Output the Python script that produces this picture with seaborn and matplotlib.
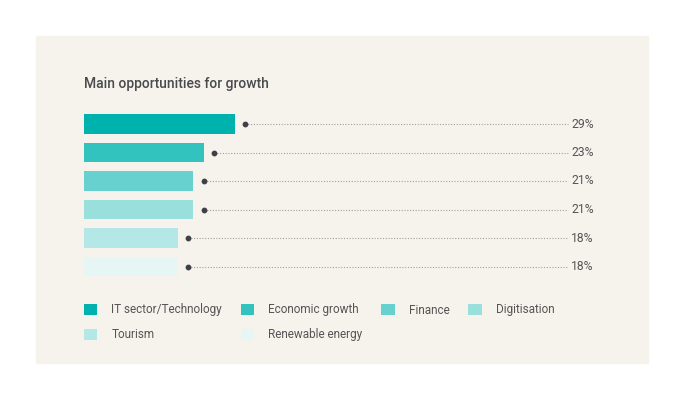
import numpy as np
import pandas as pd
import matplotlib.pyplot as plt
from matplotlib.patches import Rectangle, Patch
import seaborn as sns

categories = ['IT sector/Technology', 'Economic growth', 'Finance',
              'Digitisation', 'Tourism', 'Renewable energy']
values = [29, 23, 21, 21, 18, 18]
labels = ['29%', '23%', '21%', '21%', '18%', '18%']
colors = ['#00b2ad', '#33c3bf', '#66d1ce', '#99e0dd', '#b3e8e6', '#e6f6f5']

sns.set_theme(style='white')
plt.rcParams['font.family'] = ['Roboto', 'DejaVu Sans']

W, H = 684, 400
fig = plt.figure(figsize=(W / 100, H / 100), dpi=100)
fig.patch.set_facecolor('white')

# beige panel behind everything
fig.patches.append(Rectangle((36 / W, 1 - 363 / H), 612 / W, 327 / H,
                             transform=fig.transFigure, color='#f6f3ed', zorder=-5))

ax = fig.add_axes([84 / W, 1 - 280.75 / H, 520 / W, 171 / H])
ax.patch.set_alpha(0)

df = pd.DataFrame({'cat': categories, 'val': values})
sns.barplot(data=df, x='val', y='cat', hue='cat', palette=colors,
            legend=False, orient='h', width=0.67, ax=ax, saturation=1,
            linewidth=0)

pos = np.arange(len(categories))
vals = np.array(values)
ax.hlines(pos, vals + 2.0, 93.1, colors='#a0a0a0', linestyles=(0, (1, 1.5)), lw=0.8)
ax.scatter(vals + 2.0, pos, s=10, color='#3f3f46', zorder=5)
for p, lab in zip(pos, labels):
    ax.text(93.7, p, lab, va='center', ha='left', fontsize=8.7, color='#555555')

ax.set_xlim(0, 100)
ax.set_ylim(5.5, -0.5)
ax.set_xlabel('')
ax.set_ylabel('')
ax.set_xticks([])
ax.set_yticks([])
sns.despine(ax=ax, left=True, bottom=True)

fig.text(84 / W, 1 - 84 / H, 'Main opportunities for growth', fontsize=10,
         fontweight='medium', color='#4a4a4f', va='center', ha='left')

# legend: column-major order so the rows read like the original
order = [0, 4, 1, 5, 2, 3]
handles = [Patch(facecolor=colors[i], edgecolor='none') for i in order]
names = [categories[i] for i in order]
fig.legend(handles, names, ncol=4, loc='upper left',
           bbox_to_anchor=(84 / W, 1 - 303.5 / H), frameon=False,
           fontsize=8.5, handlelength=1.12, handleheight=1.12,
           handletextpad=1.2, columnspacing=1.6, labelspacing=1.0,
           borderpad=0, borderaxespad=0, labelcolor='#555555')

fig.savefig('out.png', dpi=100)
